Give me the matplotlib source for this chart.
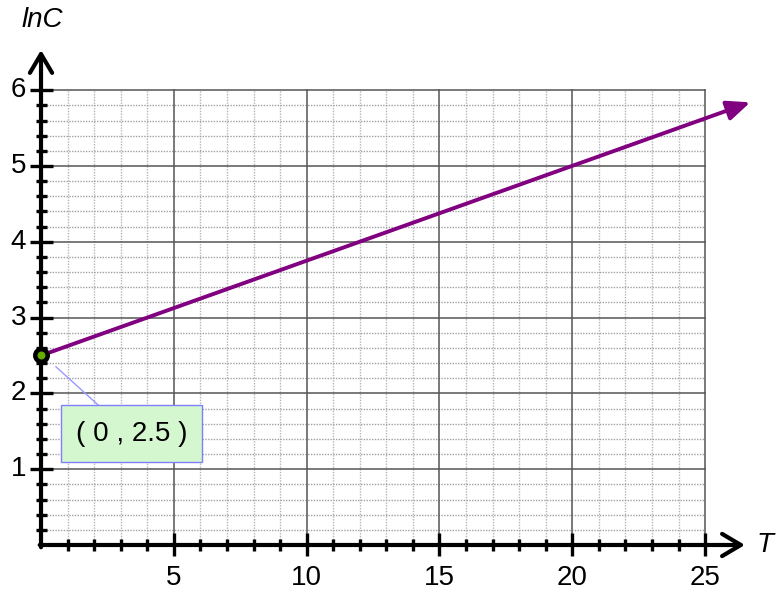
import matplotlib
matplotlib.use("Agg")
import matplotlib.pyplot as plt
import numpy as np
from matplotlib.patches import Rectangle

# data
x_major = [5, 10, 15, 20, 25]
y_major = [1, 2, 3, 4, 5, 6]
x_minor = list(range(0, 26))
y_minor = [round(0.2 * i, 1) for i in range(0, 31)]
line_x = [0, 26.7]
line_y = [2.5, 5.84]
pt_x, pt_y = 0, 2.5
pt_label = "( 0 , 2.5 )"

fig = plt.figure(figsize=(7.76, 5.91), dpi=100)
ax = fig.add_axes([0, 0, 1, 1])
ax.set_xlim(-1.544, 27.67)
ax.set_ylim(-0.607, 7.19)
ax.axis("off")

# minor grid
for xv in x_minor:
    if xv % 5 != 0:
        ax.plot([xv, xv], [0, 6], color="#b5b5b5", lw=1, ls=(0, (1, 1)), zorder=1)
for yv in y_minor:
    if abs(yv - round(yv)) > 1e-6 and yv <= 6:
        ax.plot([0, 25], [yv, yv], color="#a0a0a0", lw=1, ls=(0, (1, 1)), zorder=1)
# major grid
for xv in x_major:
    ax.plot([xv, xv], [0, 6], color="#555555", lw=1.1, zorder=2)
for yv in y_major:
    ax.plot([0, 25], [yv, yv], color="#555555", lw=1.1, zorder=2)

# axes with arrows
ax.annotate("", xy=(0, 6.53), xytext=(0, -0.03),
            arrowprops=dict(arrowstyle="->,head_length=1.35,head_width=0.8", color="black", lw=3,
                            shrinkA=0, shrinkB=0), zorder=5)
ax.annotate("", xy=(26.5, 0), xytext=(-0.05, 0),
            arrowprops=dict(arrowstyle="->,head_length=1.35,head_width=0.8", color="black", lw=3,
                            shrinkA=0, shrinkB=0), zorder=5)

# ticks
px_x = 1 / 26.56
px_y = 1 / 75.8
for yv in y_minor:
    if yv <= 6.01 and yv > 0:
        if abs(yv - round(yv)) < 1e-6:
            ax.plot([-11 * px_x, 12 * px_x], [yv, yv], color="black", lw=2.4, solid_capstyle="butt", zorder=6)
            ax.text(-15 * px_x, yv, f"{int(round(yv))}", ha="right", va="center", fontsize=20,
                    family="Liberation Sans", zorder=6)
        else:
            ax.plot([-5 * px_x, 6 * px_x], [yv, yv], color="black", lw=2.4, solid_capstyle="butt", zorder=6)
for xv in x_minor:
    if xv > 0:
        if xv % 5 == 0:
            ax.plot([xv, xv], [-11 * px_y, 12 * px_y], color="black", lw=2.4, solid_capstyle="butt", zorder=6)
            ax.text(xv, -20 * px_y, f"{xv}", ha="center", va="top", fontsize=20,
                    family="Liberation Sans", zorder=6)
        else:
            ax.plot([xv, xv], [-6 * px_y, 6 * px_y], color="black", lw=2.4, solid_capstyle="butt", zorder=6)

# axis labels
ax.text(0.05, 6.93, "lnC", ha="center", va="center", fontsize=20, style="italic",
        family="Liberation Sans")
ax.text(26.95, 0.0, "T", ha="left", va="center", fontsize=20, style="italic",
        family="Liberation Sans")

# purple line with arrow
ax.annotate("", xy=(line_x[1], line_y[1]), xytext=(line_x[0], line_y[0]),
            arrowprops=dict(arrowstyle="-|>,head_length=1.4,head_width=0.6", color="#800080", lw=2.8,
                            shrinkA=0, shrinkB=0), zorder=7)

# point
ax.plot([pt_x], [pt_y], marker="o", ms=9, mfc="#66aa00", mec="black", mew=3.2, zorder=9)

# annotation box
ax.plot([0.565, 2.15], [2.35, 1.847], color="#9999ff", lw=1, zorder=7)
ax.add_patch(Rectangle((0.75, 1.095), 5.31, 0.752, facecolor="#d4f7cf", edgecolor="#7f7fff", lw=1, zorder=8))
ax.text(3.4, 1.47, pt_label, ha="center", va="center", fontsize=20, family="Liberation Sans", zorder=9)

fig.savefig("out.png", dpi=100)
